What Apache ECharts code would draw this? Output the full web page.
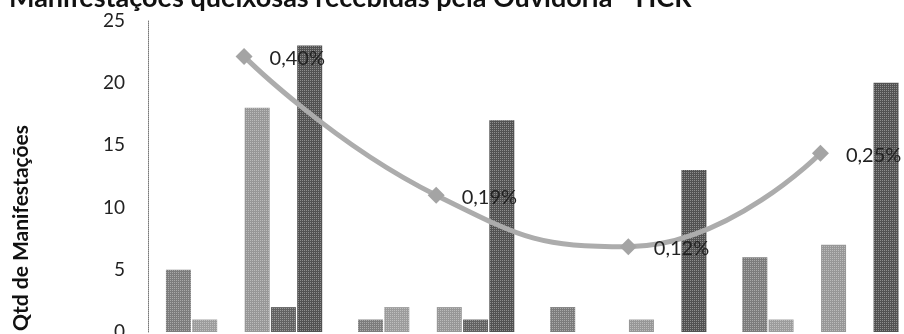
<!DOCTYPE html>
<html>
<head>
<meta charset="utf-8">
<script src="https://cdn.jsdelivr.net/npm/echarts@6/dist/echarts.min.js"></script>
<style>html,body{margin:0;padding:0;background:#fff}#c{width:904px;height:334px}</style>
</head>
<body>
<div id="c"></div>
<script>
const categories = ['Período 1', 'Período 2', 'Período 3', 'Período 4'];
const seriesNames = ['Série 1', 'Série 2', 'Série 3', 'Série 4', 'Série 5', 'Série 6'];
const serie1 = [5, 1, 2, 6];
const serie2 = [1, 2, 0, 1];
const serie3 = [0, 0, 0, 0];
const serie4 = [18, 2, 1, 7];
const serie5 = [2, 1, 0, 0];
const serie6 = [23, 17, 13, 20];
const percentual = [0.397, 0.192, 0.116, 0.254];
const yTicks = [0, 5, 10, 15, 20, 25];
const titleText = 'Manifestações queixosas recebidas pela Ouvidoria - HCR';
const yName = 'Qtd de Manifestações';

const barColors = ['#7c7c7c', '#9c9c9c', '#8c8c8c', '#979797', '#626262', '#525252'];
const barData = [serie1, serie2, serie3, serie4, serie5, serie6];

const chart = echarts.init(document.getElementById('c'), null, {renderer: 'canvas'});
const halftone = {
  symbol: 'rect',
  symbolSize: 1,
  dashArrayX: [1, 1],
  dashArrayY: [1, 1],
  rotation: 0,
  color: 'rgba(255,255,255,0.35)'
};
const barSeries = barData.map((d, i) => ({
  name: seriesNames[i],
  type: 'bar',
  data: d,
  barWidth: 25,
  barGap: '5%',
  itemStyle: {color: barColors[i], decal: halftone},
  z: 2
}));

chart.setOption({
  animation: false,
  title: {
    text: titleText,
    left: 4,
    top: -20,
    textStyle: {fontFamily: 'Lato', fontWeight: 'bold', fontSize: 27, color: '#111'}
  },
  grid: {left: 148, right: -12.5, top: 20.5, bottom: 2, containLabel: false, outerBoundsMode: 'none'},
  xAxis: {
    type: 'category',
    data: categories,
    axisLine: {show: false},
    axisTick: {show: false},
    axisLabel: {show: false}
  },
  yAxis: [{
    type: 'value',
    min: yTicks[0],
    max: yTicks[yTicks.length - 1],
    interval: 5,
    axisLine: {show: true, lineStyle: {color: '#777', type: 'dotted', width: 1}},
    axisTick: {show: false},
    splitLine: {show: false},
    axisLabel: {margin: 23, fontFamily: 'Lato', fontSize: 19, color: '#222'}
  }, {
    type: 'value',
    min: -0.01,
    max: 0.45,
    show: false,
    splitLine: {show: false}
  }],
  graphic: [{
    type: 'text',
    x: 21,
    y: 228,
    rotation: Math.PI / 2,
    style: {
      text: yName,
      fontFamily: 'Lato',
      fontWeight: 'bold',
      fontSize: 21,
      fill: '#111',
      textAlign: 'center',
      textVerticalAlign: 'middle'
    }
  }],
  series: barSeries.concat([{
    name: '% queixas',
    type: 'line',
    yAxisIndex: 1,
    data: percentual,
    smooth: 0.5,
    symbol: 'diamond',
    symbolSize: 17,
    lineStyle: {color: '#acacac', width: 5},
    itemStyle: {color: '#a4a4a4'},
    z: 5,
    label: {
      show: true,
      position: 'right',
      distance: 17,
      offset: [0, 2],
      fontFamily: 'Lato',
      fontSize: 20,
      color: '#222',
      formatter: p => p.value.toFixed(2).replace('.', ',') + '%'
    }
  }])
});
</script>
</body>
</html>
